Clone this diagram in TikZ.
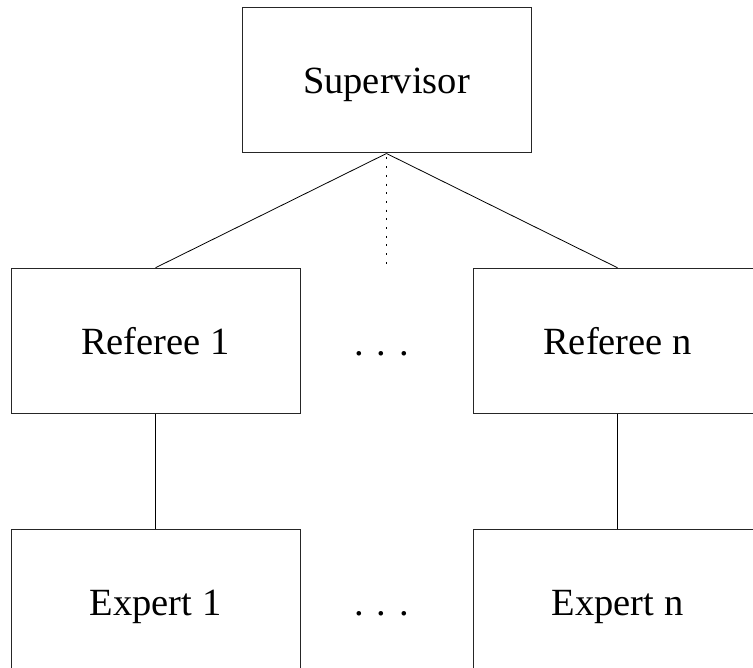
\documentclass[tikz,border=0pt]{standalone}
\usepackage{fontspec}
\setmainfont{Liberation Serif}
\begin{document}
\begin{tikzpicture}[x=1pt,y=-1pt,
  box/.style={draw=black!85,line width=1pt,rectangle,minimum width=289pt,minimum height=145pt,
    inner sep=0pt,text height=27pt,text depth=0pt,font=\fontsize{38.5}{46}\selectfont},
  link/.style={line width=0.8pt,black},
  gap/.style={anchor=base,inner sep=0pt,font=\fontsize{38.5}{46}\selectfont}]
\useasboundingbox (0,0) rectangle (753,668);
\clip (0,0) rectangle (753,668);
% hierarchy boxes
\node[box] (sup)  at (386.5,80.5)  {Supervisor};
\node[box] (ref1) at (155.5,340.75) {Referee 1};
\node[box] (refn) at (617.5,340.75) {Referee n};
\node[box] (exp1) at (155.5,601.5) {Expert 1};
\node[box] (expn) at (617.5,601.5) {Expert n};
% ellipses between the columns
\node[gap] (dots1) at (381.5,355.5) {. . .};
\node[gap] (dots2) at (381.5,615) {. . .};
% connectors
\coordinate (mid) at (386.5,266);
\draw[link] (sup.south) -- (ref1.north);
\draw[link] (sup.south) -- (refn.north);
\draw[link,dash pattern=on 2pt off 6.7pt] (sup.south) ++(0,4) -- (mid);
\draw[link] (ref1.south) -- (exp1.north);
\draw[link] (refn.south) -- (expn.north);
\end{tikzpicture}
\end{document}
